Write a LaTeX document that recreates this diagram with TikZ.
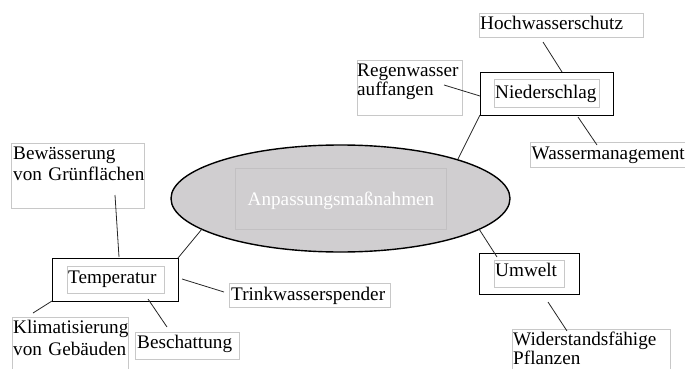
\documentclass[tikz,border=0pt]{standalone}
\usepackage{fontspec}
\setmainfont{Liberation Serif}
\usetikzlibrary{shapes.geometric}
\definecolor{leafgray}{RGB}{200,200,200}
\definecolor{ellfill}{RGB}{208,206,208}
\definecolor{ellrect}{RGB}{194,192,194}
\tikzset{
  leaf/.style={draw=leafgray, line width=0.8pt, rectangle, inner sep=0pt, anchor=north west},
  catbox/.style={draw=black, line width=1.4pt, rectangle, inner sep=0pt, anchor=north west},
  txt/.style={inner sep=0pt, anchor=base west, font=\fontsize{19.2}{21}\selectfont},
  txtml/.style={inner sep=0pt, anchor=base west, font=\fontsize{19.2}{#1}\selectfont, text width=200pt, align=left},
  conn/.style={draw=black!85, line width=0.8pt},
}
\begin{document}
\begin{tikzpicture}[x=1pt,y=-1pt]
\useasboundingbox (0,0) rectangle (685,369);
% central ellipse
\node[ellipse, draw=black, line width=1.4pt, fill=ellfill, minimum width=339pt, minimum height=107pt, inner sep=0pt] (ell) at (340.5,198.5) {};
\node[draw=ellrect, line width=0.8pt, rectangle, inner sep=0pt, anchor=north west, minimum width=211pt, minimum height=61pt] (ellr) at (235,168) {};
\node[txt, anchor=base, text=white] (ellt) at (341,205) {Anpassungsmaßnahmen};
% Temperatur
\node[catbox, minimum width=126pt, minimum height=43pt] (temp) at (52,258) {};
\node[leaf, minimum width=97pt, minimum height=27pt] (tempi) at (67,266) {};
\node[txt] (tempt) at (68,283) {Temperatur};
\node[leaf, minimum width=133pt, minimum height=65pt] (bew) at (11,143) {};
\node[txtml=21pt] (bewt) at (13,159) {Bewässerung\\von Grünflächen};
\node[leaf, minimum width=116pt, minimum height=60pt] (klim) at (12,317) {};
\node[txtml=22pt] (klimt) at (13,333) {Klimatisierung\\von Gebäuden};
\node[leaf, minimum width=104pt, minimum height=27pt] (besch) at (135,332) {};
\node[txt] (bescht) at (137,348) {Beschattung};
\node[leaf, minimum width=161pt, minimum height=24pt] (trink) at (229,283) {};
\node[txt] (trinkt) at (231,300) {Trinkwasserspender};
% Niederschlag
\node[catbox, minimum width=133pt, minimum height=43pt] (nied) at (480,72) {};
\node[leaf, minimum width=105pt, minimum height=28pt] (niedi) at (494,79) {};
\node[txt] (niedt) at (495,98) {Niederschlag};
\node[leaf, minimum width=164pt, minimum height=24pt] (hoch) at (479,13) {};
\node[txt] (hocht) at (480,30) {Hochwasserschutz};
\node[leaf, minimum width=105pt, minimum height=55pt] (regen) at (357,60) {};
\node[txtml=20pt] (regent) at (357,76) {Regenwasser\\auffangen};
\node[leaf, minimum width=154.5pt, minimum height=25pt] (wasser) at (530,142) {};
\node[txt] (wassert) at (531.5,159) {Wassermanagement};
% Umwelt
\node[catbox, minimum width=100pt, minimum height=41pt] (umw) at (479,253) {};
\node[leaf, minimum width=70pt, minimum height=27pt] (umwi) at (494,260) {};
\node[txt] (umwt) at (495,276) {Umwelt};
\node[leaf, minimum width=158pt, minimum height=50pt] (wider) at (512,329) {};
\node[txtml=19pt] (widert) at (513,345) {Widerstandsfähige\\Pflanzen};
% connector end points
\coordinate (a1) at (115,195); \coordinate (b1) at (119,257);
\coordinate (a2) at (202,229); \coordinate (b2) at (178,258);
\coordinate (a3) at (52,301);  \coordinate (b3) at (33,313);
\coordinate (a4) at (148,299); \coordinate (b4) at (167,327);
\coordinate (a5) at (182,279); \coordinate (b5) at (224,292);
\coordinate (a6) at (543,42);  \coordinate (b6) at (562,72);
\coordinate (a7) at (444,85);  \coordinate (b7) at (480,96);
\coordinate (a8) at (578,117); \coordinate (b8) at (597,145);
\coordinate (a9) at (480,115); \coordinate (b9) at (458,159);
\coordinate (a10) at (479,229); \coordinate (b10) at (497,257);
\coordinate (a11) at (548,302); \coordinate (b11) at (567,331);
\draw[conn] (a1) -- (b1);
\draw[conn] (a2) -- (b2);
\draw[conn] (a3) -- (b3);
\draw[conn] (a4) -- (b4);
\draw[conn] (a5) -- (b5);
\draw[conn] (a6) -- (b6);
\draw[conn] (a7) -- (b7);
\draw[conn] (a8) -- (b8);
\draw[conn] (a9) -- (b9);
\draw[conn] (a10) -- (b10);
\draw[conn] (a11) -- (b11);
\end{tikzpicture}
\end{document}
